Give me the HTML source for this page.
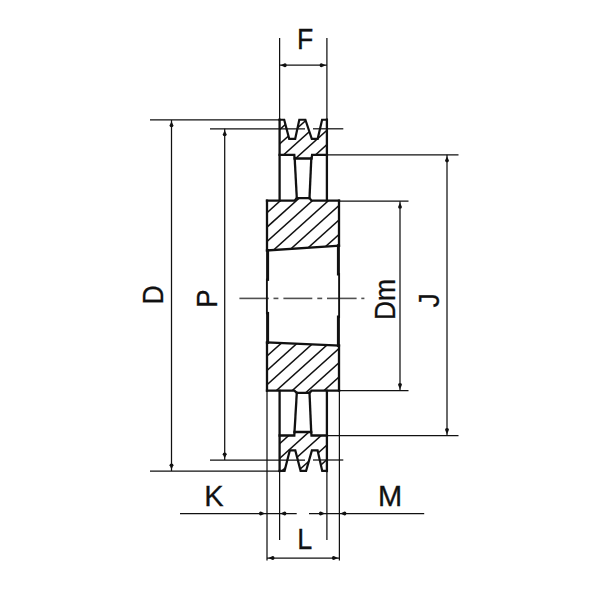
<!DOCTYPE html>
<html><head><meta charset="utf-8"><style>
html,body{margin:0;padding:0;background:#fff;}
svg{display:block;}
text{font-family:"Liberation Sans",sans-serif;font-size:29px;fill:#111;stroke:#111;stroke-width:0.3px;}
</style></head><body>
<svg width="600" height="600" viewBox="0 0 600 600">
<defs><clipPath id="c1"><polygon points="279.6,119.75 284.2,119.75 289.2,138.8 295.2,138.8 299.3,119.75 305.4,119.75 311.8,138.8 317.7,138.8 322.1,119.75 326.9,119.75 326.9,154.8 312.1,154.8 311.6,158.5 294.6,158.5 294.3,154.8 279.6,154.8"/></clipPath><clipPath id="c2"><polygon points="267,200.7 294.5,200.7 296.8,198.1 309.5,198.1 311.6,200.7 339,200.7 339,245.7 267,250.5"/></clipPath><clipPath id="c3"><polygon points="267,342.5 339,345.5 339,390.6 311.6,390.6 309.5,392.8 296.8,392.8 294.4,390.6 267,390.6"/></clipPath><clipPath id="c4"><polygon points="279.6,435.5 294.3,435.5 294.5,432 311.2,432 311.5,435.5 326.9,435.5 326.9,470.8 322.2,470.8 317.6,450.4 311.9,450.4 306.1,470.8 300.6,470.8 295.3,450.4 289.8,450.4 284.6,470.8 279.6,470.8"/></clipPath></defs>
<rect width="600" height="600" fill="#fff"/>
<g clip-path="url(#c1)" stroke="#111" stroke-width="1.5"><line x1="250" y1="156.30" x2="360" y2="57.30"/><line x1="250" y1="170.70" x2="360" y2="71.70"/><line x1="250" y1="185.10" x2="360" y2="86.10"/><line x1="250" y1="199.50" x2="360" y2="100.50"/><line x1="250" y1="213.90" x2="360" y2="114.90"/></g>
<g clip-path="url(#c2)" stroke="#111" stroke-width="1.5"><line x1="250" y1="228.00" x2="360" y2="129.00"/><line x1="250" y1="242.42" x2="360" y2="143.42"/><line x1="250" y1="256.84" x2="360" y2="157.84"/><line x1="250" y1="271.26" x2="360" y2="172.26"/><line x1="250" y1="285.68" x2="360" y2="186.68"/><line x1="250" y1="300.10" x2="360" y2="201.10"/><line x1="250" y1="314.52" x2="360" y2="215.52"/></g>
<g clip-path="url(#c3)" stroke="#111" stroke-width="1.5"><line x1="250" y1="371.40" x2="360" y2="272.40"/><line x1="250" y1="385.70" x2="360" y2="286.70"/><line x1="250" y1="400.00" x2="360" y2="301.00"/><line x1="250" y1="414.30" x2="360" y2="315.30"/><line x1="250" y1="428.60" x2="360" y2="329.60"/><line x1="250" y1="442.90" x2="360" y2="343.90"/><line x1="250" y1="457.20" x2="360" y2="358.20"/></g>
<g clip-path="url(#c4)" stroke="#111" stroke-width="1.5"><line x1="250" y1="470.40" x2="360" y2="371.40"/><line x1="250" y1="485.00" x2="360" y2="386.00"/><line x1="250" y1="499.60" x2="360" y2="400.60"/><line x1="250" y1="514.20" x2="360" y2="415.20"/><line x1="250" y1="528.80" x2="360" y2="429.80"/></g>
<line x1="279.6" y1="38" x2="279.6" y2="120" stroke="#111" stroke-width="1.25"/>
<line x1="326.9" y1="38" x2="326.9" y2="120" stroke="#111" stroke-width="1.25"/>
<line x1="279.6" y1="65.2" x2="326.9" y2="65.2" stroke="#111" stroke-width="1.25"/>
<path transform="translate(279.60,65.20) rotate(-90)" d="M0,0.9 L1.95,5.300000000000001 Q2.0,7.1000000000000005 0,7.1000000000000005 Q-2.0,7.1000000000000005 -1.95,5.300000000000001 Z" fill="#111"/>
<path transform="translate(326.90,65.20) rotate(90)" d="M0,1.1 L1.95,5.5 Q2.0,7.300000000000001 0,7.300000000000001 Q-2.0,7.300000000000001 -1.95,5.5 Z" fill="#111"/>
<line x1="150" y1="119.75" x2="279.6" y2="119.75" stroke="#111" stroke-width="1.25"/>
<line x1="150" y1="471" x2="284" y2="471" stroke="#111" stroke-width="1.25"/>
<line x1="171.5" y1="120" x2="171.5" y2="471" stroke="#111" stroke-width="1.25"/>
<path transform="translate(171.50,119.75) rotate(0)" d="M0,1.4 L1.95,5.800000000000001 Q2.0,7.6 0,7.6 Q-2.0,7.6 -1.95,5.800000000000001 Z" fill="#111"/>
<path transform="translate(171.50,471.00) rotate(180)" d="M0,1.4 L1.95,5.800000000000001 Q2.0,7.6 0,7.6 Q-2.0,7.6 -1.95,5.800000000000001 Z" fill="#111"/>
<line x1="210" y1="128.75" x2="305" y2="128.75" stroke="#111" stroke-width="1.25"/>
<line x1="313" y1="128.8" x2="343.3" y2="128.8" stroke="#111" stroke-width="1.25"/>
<line x1="210" y1="460" x2="305" y2="460" stroke="#111" stroke-width="1.25"/>
<line x1="313" y1="460" x2="343.3" y2="460" stroke="#111" stroke-width="1.25"/>
<line x1="224.7" y1="128.75" x2="224.7" y2="460" stroke="#111" stroke-width="1.25"/>
<path transform="translate(224.70,128.75) rotate(0)" d="M0,1.4 L1.95,5.800000000000001 Q2.0,7.6 0,7.6 Q-2.0,7.6 -1.95,5.800000000000001 Z" fill="#111"/>
<path transform="translate(224.70,460.00) rotate(180)" d="M0,1.4 L1.95,5.800000000000001 Q2.0,7.6 0,7.6 Q-2.0,7.6 -1.95,5.800000000000001 Z" fill="#111"/>
<line x1="327" y1="154.8" x2="458.5" y2="154.8" stroke="#111" stroke-width="1.25"/>
<line x1="327" y1="435.6" x2="458.5" y2="435.6" stroke="#111" stroke-width="1.25"/>
<line x1="447" y1="154.8" x2="447" y2="435.6" stroke="#111" stroke-width="1.25"/>
<path transform="translate(447.00,154.80) rotate(0)" d="M0,1.4 L1.95,5.800000000000001 Q2.0,7.6 0,7.6 Q-2.0,7.6 -1.95,5.800000000000001 Z" fill="#111"/>
<path transform="translate(447.00,435.60) rotate(180)" d="M0,1.4 L1.95,5.800000000000001 Q2.0,7.6 0,7.6 Q-2.0,7.6 -1.95,5.800000000000001 Z" fill="#111"/>
<line x1="339" y1="201.2" x2="408.5" y2="201.2" stroke="#111" stroke-width="1.25"/>
<line x1="339" y1="390.6" x2="408.5" y2="390.6" stroke="#111" stroke-width="1.25"/>
<line x1="400" y1="201.2" x2="400" y2="390.6" stroke="#111" stroke-width="1.25"/>
<path transform="translate(400.00,201.20) rotate(0)" d="M0,1.4 L1.95,5.800000000000001 Q2.0,7.6 0,7.6 Q-2.0,7.6 -1.95,5.800000000000001 Z" fill="#111"/>
<path transform="translate(400.00,390.60) rotate(180)" d="M0,1.4 L1.95,5.800000000000001 Q2.0,7.6 0,7.6 Q-2.0,7.6 -1.95,5.800000000000001 Z" fill="#111"/>
<line x1="267" y1="390" x2="267" y2="560.5" stroke="#111" stroke-width="1.25"/>
<line x1="339.4" y1="390" x2="339.4" y2="560.5" stroke="#111" stroke-width="1.25"/>
<line x1="279.6" y1="471" x2="279.6" y2="540" stroke="#111" stroke-width="1.25"/>
<line x1="326.9" y1="471" x2="326.9" y2="540" stroke="#111" stroke-width="1.25"/>
<line x1="180" y1="513.5" x2="296.7" y2="513.5" stroke="#111" stroke-width="1.25"/>
<line x1="309" y1="513.5" x2="424.2" y2="513.5" stroke="#111" stroke-width="1.25"/>
<path transform="translate(267.00,513.50) rotate(90)" d="M0,1.8 L1.95,6.2 Q2.0,8.0 0,8.0 Q-2.0,8.0 -1.95,6.2 Z" fill="#111"/>
<path transform="translate(279.60,513.50) rotate(-90)" d="M0,0.6 L1.95,5.0 Q2.0,6.8 0,6.8 Q-2.0,6.8 -1.95,5.0 Z" fill="#111"/>
<path transform="translate(326.90,513.50) rotate(90)" d="M0,1.8 L1.95,6.2 Q2.0,8.0 0,8.0 Q-2.0,8.0 -1.95,6.2 Z" fill="#111"/>
<path transform="translate(339.40,513.50) rotate(-90)" d="M0,0.8 L1.95,5.2 Q2.0,7.0 0,7.0 Q-2.0,7.0 -1.95,5.2 Z" fill="#111"/>
<line x1="267" y1="558" x2="339.4" y2="558" stroke="#111" stroke-width="1.25"/>
<path transform="translate(267.00,558.00) rotate(-90)" d="M0,1.3 L1.95,5.7 Q2.0,7.5 0,7.5 Q-2.0,7.5 -1.95,5.7 Z" fill="#111"/>
<path transform="translate(339.40,558.00) rotate(90)" d="M0,1.3 L1.95,5.7 Q2.0,7.5 0,7.5 Q-2.0,7.5 -1.95,5.7 Z" fill="#111"/>
<line x1="239.4" y1="298.4" x2="268.8" y2="298.4" stroke="#505050" stroke-width="1.6"/>
<line x1="273.5" y1="298.4" x2="278.4" y2="298.4" stroke="#505050" stroke-width="1.6"/>
<line x1="283.4" y1="298.4" x2="312.3" y2="298.4" stroke="#505050" stroke-width="1.6"/>
<line x1="317.3" y1="298.4" x2="322.2" y2="298.4" stroke="#505050" stroke-width="1.6"/>
<line x1="327" y1="298.4" x2="356.6" y2="298.4" stroke="#505050" stroke-width="1.6"/>
<line x1="361.3" y1="298.4" x2="364.4" y2="298.4" stroke="#505050" stroke-width="1.6"/>
<polyline points="279.6,119.75 284.2,119.75 289.2,138.8 295.2,138.8 299.3,119.75 305.4,119.75 311.8,138.8 317.7,138.8 322.1,119.75 326.9,119.75" fill="none" stroke="#111" stroke-width="2.2" stroke-linejoin="miter" stroke-linecap="square"/>
<polyline points="279.6,119.75 279.6,200.3" fill="none" stroke="#111" stroke-width="2.3" stroke-linejoin="miter" stroke-linecap="square"/>
<polyline points="326.9,119.75 326.9,200.3" fill="none" stroke="#111" stroke-width="2.3" stroke-linejoin="miter" stroke-linecap="square"/>
<polyline points="279.6,154.8 294.3,154.8 294.6,158.5 311.6,158.5 312.1,154.8 326.9,154.8" fill="none" stroke="#111" stroke-width="2.3" stroke-linejoin="miter" stroke-linecap="square"/>
<polyline points="294.7,158.5 296.8,198.1" fill="none" stroke="#111" stroke-width="2.3" stroke-linejoin="miter" stroke-linecap="square"/>
<polyline points="311.3,158.5 309.5,198.1" fill="none" stroke="#111" stroke-width="2.3" stroke-linejoin="miter" stroke-linecap="square"/>
<polyline points="267,200.7 294.5,200.7 296.8,198.1 309.5,198.1 311.6,200.7 339,200.7" fill="none" stroke="#111" stroke-width="2.3" stroke-linejoin="miter" stroke-linecap="square"/>
<polyline points="267,200.7 267,250.5" fill="none" stroke="#111" stroke-width="2.3" stroke-linejoin="miter" stroke-linecap="square"/>
<polyline points="339,200.7 339,245.7" fill="none" stroke="#111" stroke-width="2.3" stroke-linejoin="miter" stroke-linecap="square"/>
<polyline points="267,250.5 339,245.7" fill="none" stroke="#111" stroke-width="2.3" stroke-linejoin="miter" stroke-linecap="square"/>
<polyline points="267,342.5 339,345.5" fill="none" stroke="#111" stroke-width="2.3" stroke-linejoin="miter" stroke-linecap="square"/>
<polyline points="267,342.5 267,390.6" fill="none" stroke="#111" stroke-width="2.3" stroke-linejoin="miter" stroke-linecap="square"/>
<polyline points="339,345.5 339,390.6" fill="none" stroke="#111" stroke-width="2.3" stroke-linejoin="miter" stroke-linecap="square"/>
<polyline points="267,390.6 294.4,390.6 296.8,392.8 309.5,392.8 311.6,390.6 339,390.6" fill="none" stroke="#111" stroke-width="2.3" stroke-linejoin="miter" stroke-linecap="square"/>
<polyline points="267.6,250.5 267.6,279.4" fill="none" stroke="#111" stroke-width="3.0" stroke-linejoin="miter" stroke-linecap="square"/>
<polyline points="267.6,313.4 267.6,342.5" fill="none" stroke="#111" stroke-width="3.0" stroke-linejoin="miter" stroke-linecap="square"/>
<polyline points="266.9,279.4 266.9,313.4" fill="none" stroke="#111" stroke-width="1.9" stroke-linejoin="miter" stroke-linecap="square"/>
<polyline points="338.4,245.7 338.4,274" fill="none" stroke="#111" stroke-width="3.0" stroke-linejoin="miter" stroke-linecap="square"/>
<polyline points="338.4,317 338.4,345.5" fill="none" stroke="#111" stroke-width="3.0" stroke-linejoin="miter" stroke-linecap="square"/>
<polyline points="339.1,274 339.1,317" fill="none" stroke="#111" stroke-width="1.9" stroke-linejoin="miter" stroke-linecap="square"/>
<polyline points="279.6,390.8 279.6,471" fill="none" stroke="#111" stroke-width="2.3" stroke-linejoin="miter" stroke-linecap="square"/>
<polyline points="326.9,390.8 326.9,471" fill="none" stroke="#111" stroke-width="2.3" stroke-linejoin="miter" stroke-linecap="square"/>
<polyline points="279.6,435.5 294.3,435.5 294.5,432 311.2,432 311.5,435.5 326.9,435.5" fill="none" stroke="#111" stroke-width="2.3" stroke-linejoin="miter" stroke-linecap="square"/>
<polyline points="294.5,432 296.8,392.8" fill="none" stroke="#111" stroke-width="2.3" stroke-linejoin="miter" stroke-linecap="square"/>
<polyline points="309.5,392.8 311.2,432" fill="none" stroke="#111" stroke-width="2.3" stroke-linejoin="miter" stroke-linecap="square"/>
<polyline points="279.6,470.8 284.6,470.8 289.8,450.4 295.3,450.4 300.6,470.8 306.1,470.8 311.9,450.4 317.6,450.4 322.2,470.8 326.9,470.8" fill="none" stroke="#111" stroke-width="2.2" stroke-linejoin="miter" stroke-linecap="square"/>
<text x="0" y="0" transform="translate(305.15,48.70) scale(0.92,1)" text-anchor="middle">F</text>
<text x="0" y="0" transform="translate(213.80,505.50) scale(1.0,1)" text-anchor="middle">K</text>
<text x="0" y="0" transform="translate(390.00,505.80) scale(1.0,1)" text-anchor="middle">M</text>
<text x="0" y="0" transform="translate(304.75,549.20) scale(0.93,1)" text-anchor="middle">L</text>
<text x="0" y="0" transform="translate(162.50,294.95) rotate(-90) scale(0.92,1)" text-anchor="middle">D</text>
<text x="0" y="0" transform="translate(216.60,298.60) rotate(-90) scale(0.95,1)" text-anchor="middle">P</text>
<text x="0" y="0" transform="translate(395.40,299.50) rotate(-90) scale(0.91,1)" text-anchor="middle">Dm</text>
<text x="0" y="0" transform="translate(438.60,300.30) rotate(-90) scale(1.0,1)" text-anchor="middle">J</text>
</svg>
</body></html>
